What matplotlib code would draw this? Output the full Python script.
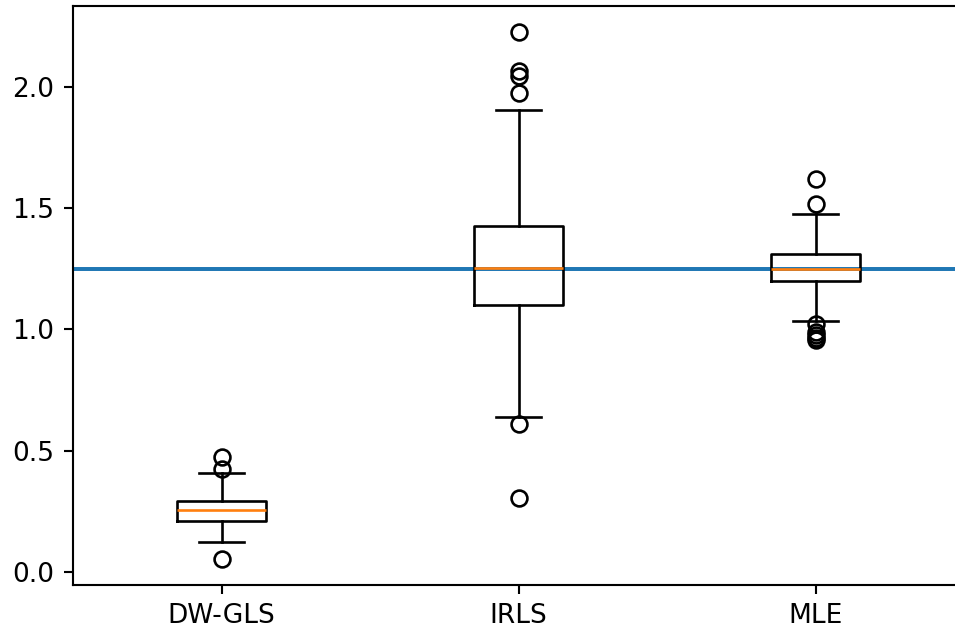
import matplotlib
matplotlib.use("Agg")
import matplotlib.pyplot as plt

labels = ["DW-GLS", "IRLS", "MLE"]
medians = [0.255, 1.252, 1.249]
q1 = [0.211, 1.099, 1.200]
q3 = [0.293, 1.427, 1.310]
whislo = [0.124, 0.640, 1.035]
whishi = [0.409, 1.902, 1.475]
fliers = [
    [0.472, 0.424, 0.055],
    [2.224, 2.063, 2.043, 1.974, 0.610, 0.307],
    [1.619, 1.515, 1.022, 0.99, 0.975, 0.965, 0.958],
]
true_value = 1.25

dpi = 190
fig = plt.figure(figsize=(955 / dpi, 629 / dpi), dpi=dpi)
# axes runs a little past the right edge of the image, as in the reference crop
ax = fig.add_axes([73 / 955, 44 / 629, 891 / 955, 579 / 629])

ax.axhline(true_value)

stats = []
for i in range(len(labels)):
    stats.append({
        "label": labels[i],
        "med": medians[i],
        "q1": q1[i],
        "q3": q3[i],
        "whislo": whislo[i],
        "whishi": whishi[i],
        "fliers": fliers[i],
    })
ax.bxp(stats, widths=0.3)
ax.set_yticks([0.0, 0.5, 1.0, 1.5, 2.0])
ax.spines["right"].set_visible(False)

fig.savefig("out.png", dpi=dpi)
